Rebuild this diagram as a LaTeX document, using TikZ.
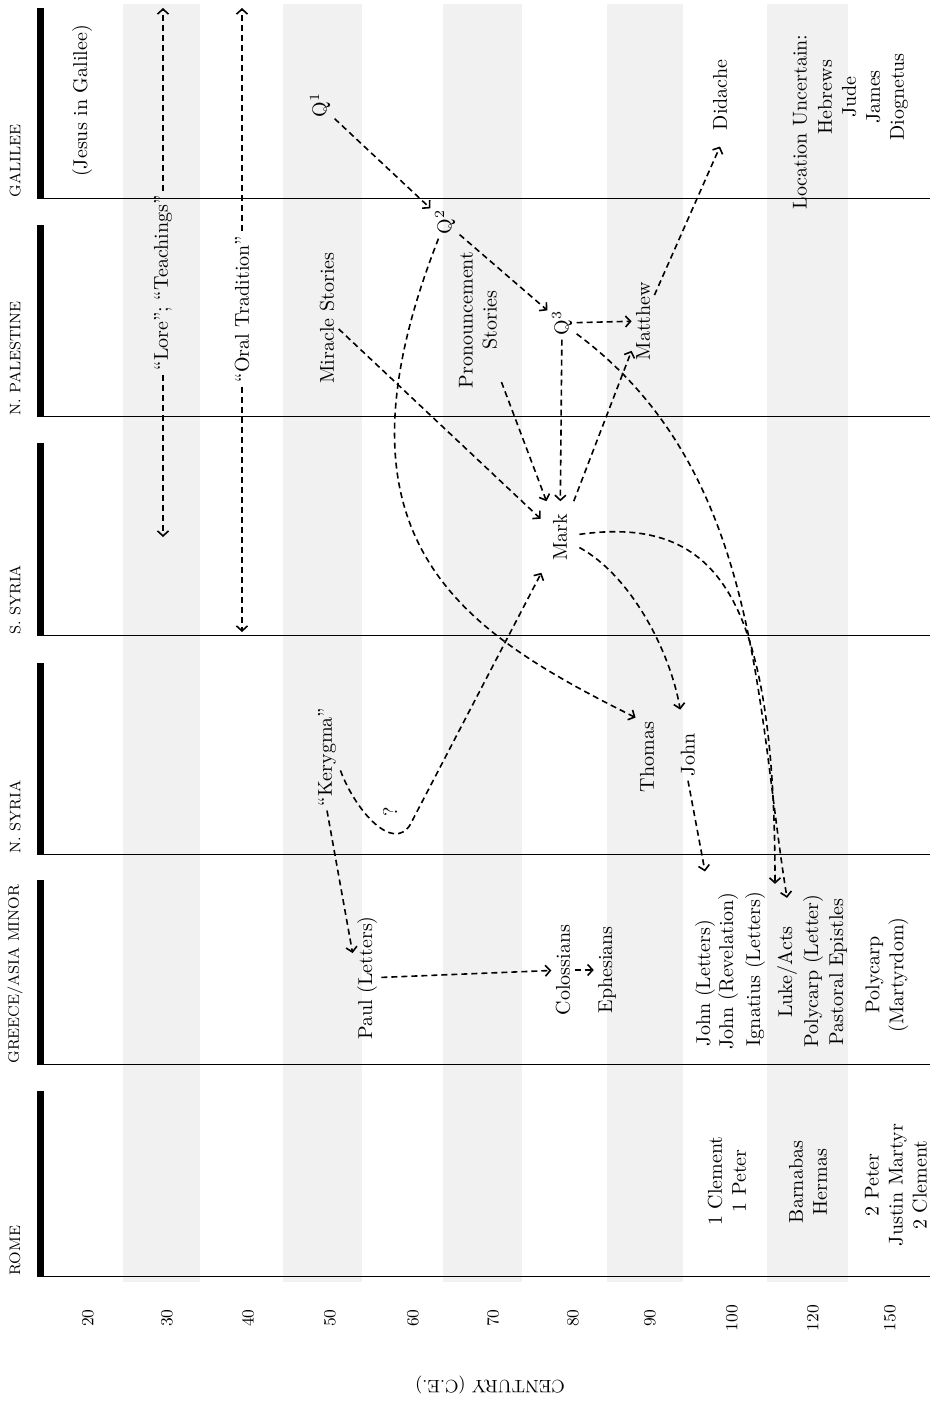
\documentclass[tikz,border=0pt]{standalone}
\usepackage{xcolor}
\usetikzlibrary{arrows.meta,shapes,calc}

\begin{document}
\begin{tikzpicture}[x=0.5pt, y=-0.5pt,
		every node/.style={font=\fontsize{10}{12}\selectfont},
		lbl/.style={rotate=90, inner sep=2pt, align=center},
		region/.style={rotate=90, anchor=west, inner sep=0pt, font=\fontsize{7.6}{9}\selectfont},
		yr/.style={rotate=90, font=\fontsize{8.5}{10}\selectfont},
		conn/.style={line width=0.8pt, dash pattern=on 3pt off 2pt, -{Straight Barb[length=2.5pt,width=5.5pt]}},
		bar/.style={line width=3.5pt}]
		\useasboundingbox (0,0) rectangle (935,1403);
		\foreach \a/\b in {123/200, 283/362, 443/522, 607/683, 767/848}
			\fill[gray!11] (\a,4) rectangle (\b,1282);
		\foreach \t/\b/\name [count=\i] in {8/198/GALILEE, 225/416/N. PALESTINE, 443/635/S. SYRIA, 663/854/N. SYRIA, 880/1064/{GREECE/ASIA MINOR}, 1091/1276/ROME}{
			\draw[bar] (40.5,\t) -- (40.5,\b);
			\draw[line width=0.5pt] (37,\b) -- (930,\b);
			\node[region] (reg\i) at (15,\b) {\name};
		}
		\foreach \x/\v in {88/20, 167/30, 248/40, 330/50, 413/60, 493/70, 573/80, 650/90, 732/100, 813/120, 890/150}
			\node[yr] (yr\v) at (\x,1318) {\v};
		\node[rotate=180, font=\fontsize{9}{10}\selectfont] (axis) at (490,1385) {CENTURY (C.E.)};
		
		\node[lbl] (jesus) at (82,101) {(Jesus in Galilee)};
		\node[lbl] (lore) at (163,283) {``Lore''; ``Teachings''};
		\node[lbl] (oral) at (242,309) {``Oral Tradition''};
		\node[lbl] (q1) at (320,105) {Q\textsuperscript{1}};
		\node[lbl] (q2) at (445,222) {Q\textsuperscript{2}};
		\node[lbl] (q3) at (562,323) {Q\textsuperscript{3}};
		\node[lbl] (miracle) at (327,318) {Miracle Stories};
		\node[lbl] (pronounce) at (478,320) {Pronouncement\\Stories};
		\node[lbl, inner sep=6pt] (mark) at (560,537) {Mark};
		\node[lbl] (matthew) at (643,321) {Matthew};
		\node[lbl] (didache) at (720,95) {Didache};
		\node[lbl] (uncertain) at (800,122) {Location Uncertain:};
		\node[lbl] (others) at (863,97) {Hebrews\\Jude\\James\\Diognetus};
		\node[lbl] (kerygma) at (327,757) {``Kerygma''};
		\node[lbl] (qm) at (390,812) {?};
		\node[lbl] (thomas) at (647,757) {Thomas};
		\node[lbl] (john) at (688,755) {John};
		\node[lbl] (paul) at (367,978) {Paul (Letters)};
		\node[lbl] (coloss) at (563,970) {Colossians};
		\node[lbl] (ephes) at (607,970) {Ephesians};
		\node[lbl] (jletters) at (705,983) {John (Letters)};
		\node[lbl] (jrev) at (728,971) {John (Revelation)};
		\node[lbl] (ignatius) at (755,969) {Ignatius (Letters)};
		\node[lbl] (luke) at (787,972) {Luke/Acts};
		\node[lbl] (polyletter) at (813,971) {Polycarp (Letter)};
		\node[lbl] (pastoral) at (838,972) {Pastoral Epistles};
		\node[lbl] (polymart) at (887,975) {Polycarp\\(Martyrdom)};
		\node[lbl] (clement) at (727,1181) {1 Clement\\1 Peter};
		\node[lbl] (barnabas) at (808,1182) {Barnabas\\Hermas};
		\node[lbl] (peter) at (896,1185) {2 Peter\\Justin Martyr\\2 Clement};
		
		\coordinate (loretop) at (163,8);
		\coordinate (lorebot) at (163,537);
		\coordinate (oraltop) at (242,8);
		\coordinate (oralbot) at (242,632);
		
		\draw[conn] (lore) -- (loretop);
		\draw[conn] (lore) -- (lorebot);
		\draw[conn] (oral) -- (oraltop);
		\draw[conn] (oral) -- (oralbot);
		\draw[conn] (q1) -- (q2);
		\draw[conn] (q2) -- (q3);
		\draw[conn] (q3) -- (matthew);
		\draw[conn] (q3) -- (mark);
		\draw[conn] (q3) .. controls (760,470) and (755,700) .. ([yshift=12pt]luke.east);
		\draw[conn] (q2) .. controls (320,540) and (460,630) .. (thomas.north east);
		\draw[conn] (miracle) -- (mark);
		\draw[conn] (pronounce) -- (mark);
		\draw[conn] (mark) -- (matthew);
		\draw[conn] (matthew) -- ([yshift=-6pt]didache.west);
		\draw[conn] (kerygma.-135) .. controls (356,812) and (393,852) .. (410,825) -- (mark);
		\draw[conn] (kerygma.west) -- (paul.30);
		\draw[conn] (paul) -- (coloss);
		\draw[conn] (coloss) -- (ephes);
		\draw[conn, shorten >=10pt] (mark) .. controls (630,575) and (670,650) .. (john);
		\draw[conn] (mark) .. controls (720,515) and (775,600) .. ([xshift=-6pt,yshift=19pt]luke.east);
		\draw[conn] (john.west) -- ([yshift=22pt]jletters.east);
\end{tikzpicture}
\end{document}
